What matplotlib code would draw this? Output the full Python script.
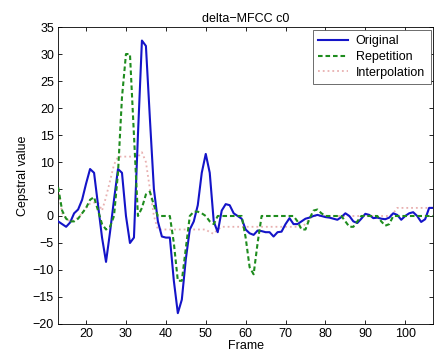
import matplotlib
matplotlib.use('Agg')
import matplotlib.pyplot as plt
import numpy as np

plt.rcParams['font.family'] = ['Liberation Sans', 'DejaVu Sans']
plt.rcParams['axes.unicode_minus'] = True

frames = np.arange(13, 108)

# Original (blue)
original = [-1.0, -1.5, -2.0, -1.2, 0.5, 1.2, 3.0, 6.0, 8.7, 8.0,
            2.0, -4.0, -8.5, -3.0, 3.0, 8.7, 8.0, 0.0, -5.0, -4.0,
            15.0, 32.5, 31.5, 18.0, 5.0, -1.0, -3.8, -4.0, -4.0, -12.0,
            -18.0, -15.5, -8.0, -2.5, -1.0, 2.0, 8.0, 11.5, 8.0, -1.0,
            -3.0, 1.0, 2.2, 2.0, 0.5, 0.0, -0.5, -2.5, -3.2, -3.5,
            -2.7, -2.8, -3.0, -3.0, -3.8, -3.0, -2.9, -1.5, -0.4, -1.5,
            -1.5, -1.0, -0.5, -0.3, 0.0, 0.2, 0.0, -0.2, -0.3, -0.5,
            -0.7, -0.2, 0.5, 0.0, -1.0, -1.3, -0.5, 0.4, 0.2, -0.4,
            -0.3, -0.5, -0.6, -0.3, 0.5, 0.2, -0.7, 0.0, 0.5, 0.7,
            0.0, -1.1, -0.6, 1.5, 1.5]

# Repetition (green dashed)
repetition = [5.3, 1.0, -0.5, -1.0, -1.0, -0.5, 0.5, 1.5, 3.0, 3.5,
              1.0, -1.5, -2.5, -2.0, 0.0, 8.0, 22.0, 30.0, 30.0, 15.0,
              0.0, 1.5, 4.0, 4.5, 2.0, 0.0, 0.0, 0.0, 0.0, -5.0,
              -12.0, -12.0, -6.0, 0.0, 0.8, 0.8, 0.5, 0.0, -1.0, -1.5,
              0.0, 0.0, 0.0, 0.0, 0.0, 0.0, 0.0, -4.0, -9.5, -10.8,
              -5.0, 0.0, 0.0, 0.0, 0.0, 0.0, 0.0, 0.0, 0.0, 0.0,
              -1.0, -2.5, -2.5, -0.5, 1.0, 1.2, 0.5, 0.0, 0.0, 0.0,
              0.0, 0.0, -1.0, -2.0, -2.0, -1.0, 0.0, 0.0, 0.0, 0.0,
              0.0, -1.0, -1.8, -1.5, 0.0, 0.0, 0.0, 0.0, 0.0, 0.0,
              0.0, 0.0, 0.0, 0.0, 0.0]

# Interpolation (pink dotted)
interpolation = [5.0, 0.5, -0.5, -1.0, -0.8, -0.3, 0.5, 1.5, 2.3, 2.5,
                 2.5, 1.0, 3.5, 6.5, 9.5, 11.0, 11.0, 11.0, 11.0, 11.0,
                 11.0, 11.8, 10.0, 5.0, 0.0, -2.5, -2.5, -2.5, -2.5, -2.5,
                 -2.5, -2.5, -2.5, -2.5, -2.5, -2.5, -2.5, -2.5, -3.0, -3.3,
                 -2.5, -2.0, -2.0, -2.0, -2.0, -2.0, -2.0, -2.0, -2.0, -2.0,
                 -2.0, -2.0, -2.0, -2.0, -2.0, -2.0, -2.0, -2.0, -2.0, -2.0,
                 -2.0, -2.0, -1.5, -0.5, 0.0, 0.0, 0.0, 0.0, 0.0, 0.0,
                 0.0, 0.0, 0.0, 0.0, 0.0, 0.0, 0.0, 0.0, 0.0, 0.0,
                 0.0, 0.0, 0.0, 0.0, 0.5, 1.5, 1.5, 1.5, 1.5, 1.5,
                 1.5, 1.5, 1.5, 1.5, 1.5]

fs = 9

fig = plt.figure(figsize=(4.34, 3.56), dpi=100)
ax = fig.add_axes([0.134, 0.09, 0.864, 0.834])

ax.plot(frames, interpolation, color='#e8b0b0', linestyle=':', linewidth=1.3, label='Interpolation', zorder=2)
ax.plot(frames, original, color='#1414c8', linestyle='-', linewidth=1.5, label='Original', zorder=3)
ax.plot(frames, repetition, color='#1e8c1e', linestyle=(0, (2.2, 1.4)), linewidth=1.5, label='Repetition', zorder=4)

ax.set_xlim(13, 107)
ax.set_ylim(-20, 35)
ax.set_xticks(np.arange(20, 101, 10))
ax.set_yticks(np.arange(-20, 36, 5))
ax.tick_params(direction='in', top=True, right=True, labelsize=fs, length=3, width=0.6, pad=3)
for s in ax.spines.values():
    s.set_linewidth(0.6)

ax.set_title('delta\u2212MFCC c0', fontsize=fs, pad=4)
ax.set_xlabel('Frame', fontsize=fs, labelpad=0)
ax.set_ylabel('Cepstral value', fontsize=fs, labelpad=3)

h, l = ax.get_legend_handles_labels()
order = [1, 2, 0]
leg = ax.legend([h[i] for i in order], [l[i] for i in order], loc='upper right',
                fontsize=fs, fancybox=False, edgecolor='#555555', framealpha=1,
                handlelength=2.4, borderaxespad=0.2, labelspacing=0.3,
                borderpad=0.45, handletextpad=0.6)
leg.get_frame().set_linewidth(0.6)

fig.savefig('out.png', dpi=100)
